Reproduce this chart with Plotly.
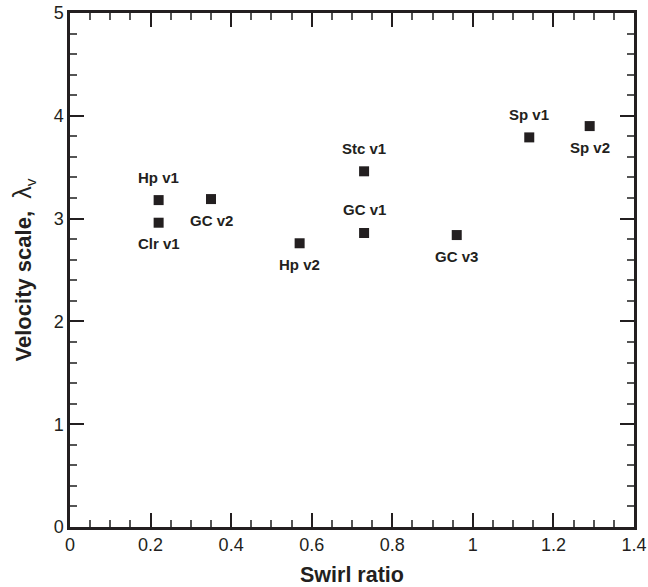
import plotly.graph_objects as go

names = ["Hp v1", "Clr v1", "GC v2", "Hp v2", "Stc v1", "GC v1", "GC v3", "Sp v1", "Sp v2"]
swirl = [0.22, 0.22, 0.35, 0.57, 0.73, 0.73, 0.96, 1.14, 1.29]
velocity = [3.18, 2.96, 3.19, 2.76, 3.46, 2.86, 2.84, 3.79, 3.90]
label_pos = ["above", "below", "below", "below", "above", "above", "below", "above", "below"]

x_ticks = [0, 0.2, 0.4, 0.6, 0.8, 1.0, 1.2, 1.4]
x_ticklabels = ["0", "0.2", "0.4", "0.6", "0.8", "1", "1.2", "1.4"]
y_ticks = [0, 1, 2, 3, 4, 5]

FONT = "Liberation Sans, Arial"
INK = "#231f20"

fig = go.Figure()
fig.add_trace(go.Scatter(
    x=swirl, y=velocity, mode="markers",
    marker=dict(symbol="square", size=10, color=INK),
    showlegend=False, hoverinfo="skip",
))

for n, xv, yv, p in zip(names, swirl, velocity, label_pos):
    fig.add_annotation(
        x=xv, y=yv, text="<b>%s</b>" % n, showarrow=False,
        yshift=23 if p == "above" else -21,
        font=dict(family=FONT, size=15, color=INK),
    )

axis_common = dict(
    showgrid=False, zeroline=False, showline=True, linecolor=INK, linewidth=2.5,
    mirror="allticks", ticks="inside", ticklen=14, tickwidth=2, tickcolor=INK,
    tickfont=dict(family=FONT, size=18, color=INK), automargin=False,
)

fig.update_xaxes(
    range=[0, 1.4], tickvals=x_ticks, ticktext=x_ticklabels,
    minor=dict(dtick=0.05, ticks="inside", ticklen=7, tickwidth=1.5, tickcolor="#555555", showgrid=False),
    title=dict(text="<b>Swirl ratio</b>", font=dict(family=FONT, size=21.5, color=INK), standoff=13),
    **axis_common,
)
fig.update_yaxes(
    range=[0, 5], tickvals=y_ticks,
    minor=dict(dtick=0.2, ticks="inside", ticklen=7, tickwidth=1.5, tickcolor="#555555", showgrid=False),
    title=dict(text="<b>Velocity scale,  </b><span style=\"font-size:25px\">λ</span><sub>v</sub>",
               font=dict(family=FONT, size=22, color=INK), standoff=16),
    **axis_common,
)

fig.update_layout(
    width=648, height=587,
    margin=dict(l=70, r=14, t=13, b=60),
    plot_bgcolor="white", paper_bgcolor="white",
)

fig.write_html("out.html")
